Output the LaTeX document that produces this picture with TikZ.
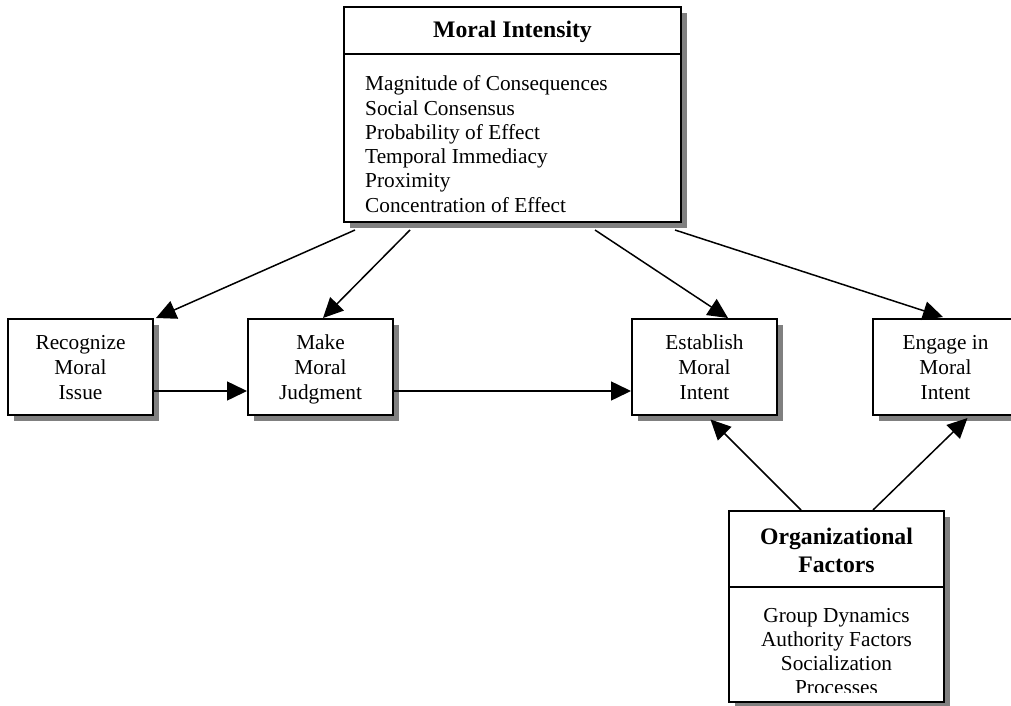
\documentclass[tikz,border=0pt]{standalone}
\usepackage{fontspec}
\setmainfont{Liberation Serif}
\usetikzlibrary{arrows.meta,shadows}
\begin{document}
\begin{tikzpicture}[x=1pt,y=-1pt,
  box/.style={draw=black,line width=2pt,fill=white,inner sep=0pt,
    drop shadow={shadow xshift=6pt,shadow yshift=-6pt,fill=gray,opacity=1}},
  smallbox/.style={box,minimum width=145pt,minimum height=96pt},
  arr/.style={line width=1.5pt,-{Triangle[length=20pt,width=19pt]}},
  txt/.style={font=\fontsize{21.3}{24.5}\selectfont,inner sep=0pt},
  ttl/.style={font=\fontsize{23.7}{28}\selectfont\bfseries,inner sep=0pt}]
\path[use as bounding box,clip] (0,0) rectangle (1011,706);
% boxes
\node[box,minimum width=337pt,minimum height=215pt] (mi) at (512.5,114.5) {};
\node[smallbox] (rec) at (80.5,367) {};
\node[smallbox] (mmj) at (320.5,367) {};
\node[smallbox] (emi) at (704.5,367) {};
\node[smallbox] (eng) at (945.5,367) {};
\node[box,minimum width=215pt,minimum height=191pt] (org) at (836.5,606.5) {};
% dividers
\draw[line width=2pt] (mi.west |- 0,54) -- (mi.east |- 0,54);
\draw[line width=2pt] (org.west |- 0,587) -- (org.east |- 0,587);
% Moral Intensity texts
\node[ttl,anchor=base] (mit) at (512.5,38) {Moral Intensity};
\node[txt,anchor=base west] (mi1) at (365,91) {Magnitude of Consequences};
\node[txt,anchor=base west] (mi2) at (365,115.2) {Social Consensus};
\node[txt,anchor=base west] (mi3) at (365,139.4) {Probability of Effect};
\node[txt,anchor=base west] (mi4) at (365,163.6) {Temporal Immediacy};
\node[txt,anchor=base west] (mi5) at (365,187.8) {Proximity};
\node[txt,anchor=base west] (mi6) at (365,212) {Concentration of Effect};
% small box texts
\node[txt,anchor=base] (rec1) at (80.5,349) {Recognize};
\node[txt,anchor=base] (rec2) at (80.5,374) {Moral};
\node[txt,anchor=base] (rec3) at (80.5,399) {Issue};
\node[txt,anchor=base] (mmj1) at (320.5,349) {Make};
\node[txt,anchor=base] (mmj2) at (320.5,374) {Moral};
\node[txt,anchor=base] (mmj3) at (320.5,399) {Judgment};
\node[txt,anchor=base] (emi1) at (704.5,349) {Establish};
\node[txt,anchor=base] (emi2) at (704.5,374) {Moral};
\node[txt,anchor=base] (emi3) at (704.5,399) {Intent};
\node[txt,anchor=base] (eng1) at (945.5,349) {Engage in};
\node[txt,anchor=base] (eng2) at (945.5,374) {Moral};
\node[txt,anchor=base] (eng3) at (945.5,399) {Intent};
% Organizational factors texts
\node[ttl,anchor=base] (orgt1) at (836.5,544) {Organizational};
\node[ttl,anchor=base] (orgt2) at (836.5,572) {Factors};
\begin{scope}
\clip (729,588) rectangle (944,692);
\node[txt,anchor=base] (org1) at (836.5,622) {Group Dynamics};
\node[txt,anchor=base] (org2) at (836.5,646) {Authority Factors};
\node[txt,anchor=base] (org3) at (836.5,670) {Socialization};
\node[txt,anchor=base] (org4) at (836.5,694) {Processes};
\end{scope}
% arrows
\draw[arr] ([xshift=-157.5pt,yshift=-7pt]mi.south) -- ([xshift=75.5pt]rec.north);
\draw[arr] ([xshift=-102.5pt,yshift=-7pt]mi.south) -- ([xshift=2.5pt]mmj.north);
\draw[arr] ([xshift=82.5pt,yshift=-7pt]mi.south) -- ([xshift=23.5pt]emi.north);
\draw[arr] ([xshift=162.5pt,yshift=-7pt]mi.south) -- ([xshift=-2.5pt,yshift=1pt]eng.north);
\draw[arr] ([yshift=-24pt]rec.east) -- ([yshift=-24pt]mmj.west);
\draw[arr] ([yshift=-24pt]mmj.east) -- ([yshift=-24pt]emi.west);
\draw[arr] ([xshift=-35.5pt]org.north) -- ([xshift=6pt,yshift=-3.5pt]emi.south);
\draw[arr] ([xshift=36.5pt]org.north) -- ([xshift=22pt,yshift=-2pt]eng.south);
\end{tikzpicture}
\end{document}
